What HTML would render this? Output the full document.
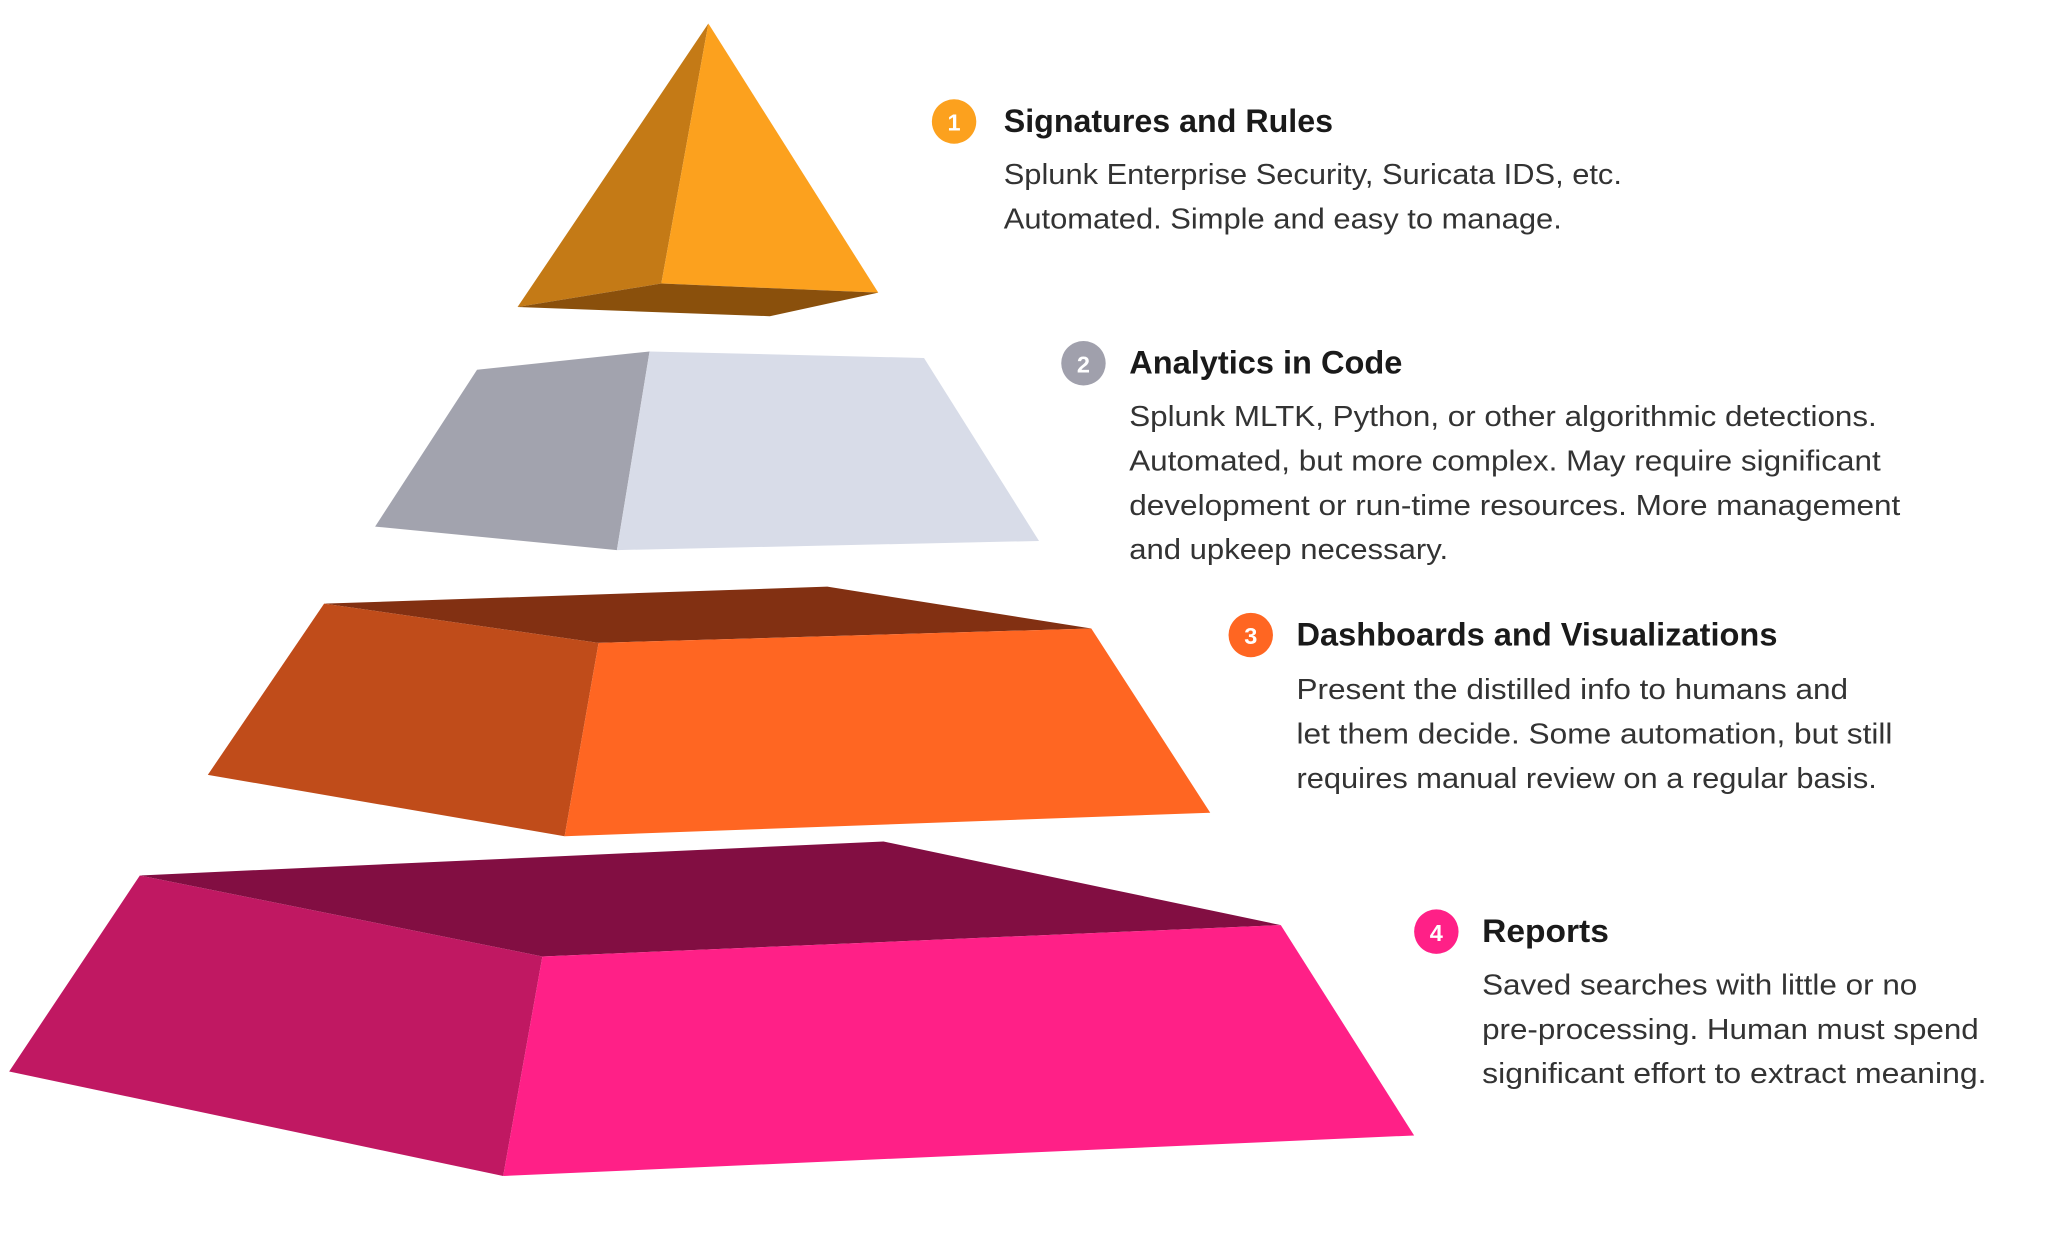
<!DOCTYPE html>
<html><head><meta charset="utf-8"><style>
html,body{margin:0;padding:0;background:#fff;}
svg{display:block;}
.h{font-family:"Liberation Sans",sans-serif;font-size:25px;font-weight:bold;fill:#1a1a1a;}
.b{font-family:"Liberation Sans",sans-serif;font-size:22px;fill:#333;}
.n{font-family:"Liberation Sans",sans-serif;font-size:18px;font-weight:bold;fill:#fff;}
</style></head><body>
<svg width="2048" height="1240" viewBox="0 0 1567 949" preserveAspectRatio="none" xmlns="http://www.w3.org/2000/svg">
<rect width="1567" height="949" fill="#fff"/>
<polygon points="542,18 396,235 506,217" fill="#c47a16"/>
<polygon points="542,18 506,217 672,224" fill="#fca11e"/>
<polygon points="396,235 506,217 672,224 589,242" fill="#8a500c"/>
<polygon points="365,283 497,269 472,421 287,403" fill="#a2a3ae"/>
<polygon points="497,269 707,274 795,414 472,421" fill="#d8dce8"/>
<polygon points="248,462 633,449 835,481 458,492" fill="#823012"/>
<polygon points="248,462 458,492 432,640 159,593" fill="#c04c1a"/>
<polygon points="458,492 835,481 926,622 432,640" fill="#ff6622"/>
<polygon points="107,670 676,644 980,708 415,732" fill="#820e42"/>
<polygon points="107,670 415,732 385,900 7,820" fill="#c01862"/>
<polygon points="415,732 980,708 1082,869 385,900" fill="#ff2087"/>

<circle cx="730" cy="93" r="17" fill="#fca11e"/>
<text class="n" x="730" y="100" text-anchor="middle">1</text>
<text class="h" x="768" y="101" textLength="252" lengthAdjust="spacingAndGlyphs">Signatures and Rules</text>
<text class="b" x="768" y="141" textLength="473" lengthAdjust="spacingAndGlyphs">Splunk Enterprise Security, Suricata IDS, etc.</text>
<text class="b" x="768" y="175" textLength="427" lengthAdjust="spacingAndGlyphs">Automated. Simple and easy to manage.</text>

<circle cx="829" cy="278" r="17" fill="#a0a0ac"/>
<text class="n" x="829" y="285" text-anchor="middle">2</text>
<text class="h" x="864" y="286" textLength="209" lengthAdjust="spacingAndGlyphs">Analytics in Code</text>
<text class="b" x="864" y="326" textLength="572" lengthAdjust="spacingAndGlyphs">Splunk MLTK, Python, or other algorithmic detections.</text>
<text class="b" x="864" y="360" textLength="575" lengthAdjust="spacingAndGlyphs">Automated, but more complex. May require significant</text>
<text class="b" x="864" y="394" textLength="590" lengthAdjust="spacingAndGlyphs">development or run-time resources. More management</text>
<text class="b" x="864" y="428" textLength="244" lengthAdjust="spacingAndGlyphs">and upkeep necessary.</text>

<circle cx="957" cy="486" r="17" fill="#ff6622"/>
<text class="n" x="957" y="493" text-anchor="middle">3</text>
<text class="h" x="992" y="494" textLength="368" lengthAdjust="spacingAndGlyphs">Dashboards and Visualizations</text>
<text class="b" x="992" y="535" textLength="422" lengthAdjust="spacingAndGlyphs">Present the distilled info to humans and</text>
<text class="b" x="992" y="569" textLength="456" lengthAdjust="spacingAndGlyphs">let them decide. Some automation, but still</text>
<text class="b" x="992" y="603" textLength="444" lengthAdjust="spacingAndGlyphs">requires manual review on a regular basis.</text>

<circle cx="1099" cy="713" r="17" fill="#ff2087"/>
<text class="n" x="1099" y="720" text-anchor="middle">4</text>
<text class="h" x="1134" y="721" textLength="97" lengthAdjust="spacingAndGlyphs">Reports</text>
<text class="b" x="1134" y="761" textLength="333" lengthAdjust="spacingAndGlyphs">Saved searches with little or no</text>
<text class="b" x="1134" y="795" textLength="380" lengthAdjust="spacingAndGlyphs">pre-processing. Human must spend</text>
<text class="b" x="1134" y="829" textLength="386" lengthAdjust="spacingAndGlyphs">significant effort to extract meaning.</text>
</svg>
</body></html>
